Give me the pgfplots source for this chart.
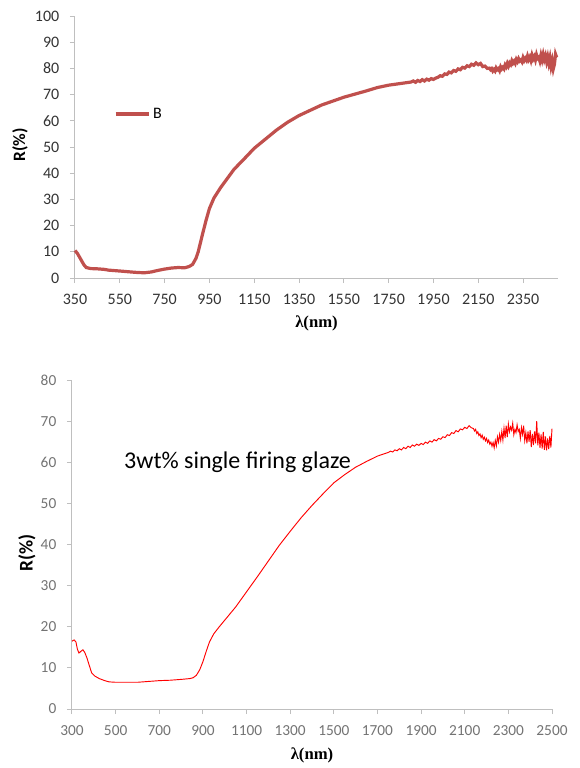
\documentclass[border=0pt]{standalone}
\usepackage{fontspec}
\setmainfont{Carlito}
\newfontfamily\serifx{Liberation Serif}
\usepackage{pgfplots}
\pgfplotsset{compat=1.18}

\definecolor{exred}{RGB}{192,80,77}
\definecolor{axgray}{RGB}{191,191,191}

\pgfplotstableread{
x y
350 10.5
360 9.5
370 8
380 6.5
390 5
400 4
420 3.6
450 3.5
480 3.3
500 3.0
530 2.8
560 2.6
600 2.3
630 2.1
660 2.0
690 2.3
720 2.9
750 3.4
780 3.8
810 4.0
840 3.9
860 4.4
875 5.2
890 7.5
900 10
910 13.5
920 17
935 22
950 26.5
970 30.5
1000 34.5
1030 38
1060 41.5
1100 45
1150 49.5
1200 53
1250 56.5
1300 59.5
1350 62
1400 64
1450 66
1500 67.5
1550 69
1600 70.2
1650 71.4
1700 72.7
1750 73.6
1800 74.2
1850 74.8
1860 75.2
1870 74.7
1880 75.4
1890 75.0
1900 75.7
1910 75.2
1920 75.9
1930 75.5
1940 76.1
1950 75.8
1960 76.3
1970 76.6
1980 77.2
1990 77.0
2000 77.9
2010 77.7
2020 78.6
2030 78.3
2040 79.2
2050 78.9
2060 79.8
2070 79.5
2080 80.4
2090 80.1
2100 81.0
2110 80.7
2120 81.6
2130 81.2
2140 82.1
2150 81.4
2160 81.9
2170 80.7
2180 80.9
2190 80.0
2200 80.1
2205 79.5
2210 79.9
2215 79.0
2220 79.6
2225 79.0
2230 80.2
2235 79.5
2240 79.9
2245 79.1
2250 80.6
2255 79.8
2260 80.4
2265 79.8
2270 81.3
2275 80.6
2280 81.9
2285 80.9
2290 82.1
2295 81.5
2300 82.9
2305 82.0
2310 82.7
2315 81.9
2320 83.4
2325 82.6
2330 83.7
2335 82.8
2340 83.2
2345 82.5
2350 84.1
2355 83.0
2360 83.8
2365 83.1
2370 84.7
2375 83.4
2380 84.3
2385 83.0
2390 85.0
2395 83.6
2400 84.5
2405 83.2
2410 85.2
2415 83.8
2420 84.2
2425 82.8
2430 85.0
2435 83.3
2440 85.3
2445 83.4
2450 84.8
2455 82.6
2460 84.4
2465 82.0
2470 84.0
2475 80.8
2480 82.8
2485 79.8
2490 81.5
2495 85.4
2500 84.2
}\topdata

\pgfplotstableread{
x y
300 16.5
310 16.8
318 16.3
325 14.5
332 13.6
340 14.0
350 14.4
358 13.8
368 12.5
378 10.8
390 8.8
405 8.0
425 7.4
450 6.9
470 6.6
500 6.5
550 6.5
600 6.5
650 6.7
700 6.9
750 7.0
800 7.2
840 7.4
855 7.6
870 8.2
885 9.5
900 11.5
915 14
930 16.3
950 18.3
975 20.0
1000 21.6
1050 24.8
1100 28.5
1150 32.2
1200 36.0
1250 39.8
1300 43.2
1350 46.5
1400 49.5
1450 52.3
1500 55.0
1550 57.0
1600 58.8
1650 60.2
1700 61.5
1750 62.4
1760 62.7
1770 62.5
1780 63.0
1790 62.8
1800 63.3
1810 63.0
1820 63.6
1830 63.3
1840 63.9
1850 63.6
1860 64.2
1870 63.9
1880 64.4
1890 64.1
1900 64.6
1910 64.3
1920 64.9
1930 64.6
1940 65.2
1950 64.9
1960 65.5
1970 65.2
1980 65.8
1990 65.6
2000 66.2
2010 66.0
2020 66.7
2030 66.5
2040 67.2
2050 67.0
2060 67.7
2070 67.4
2080 68.1
2090 67.9
2100 68.5
2110 68.2
2120 68.9
2130 68.4
2140 68.2
2145 67.6
2150 68.0
2155 67.0
2160 67.4
2165 66.5
2170 66.9
2175 66.0
2180 66.6
2185 65.6
2190 66.1
2195 65.2
2200 65.8
2205 64.8
2210 65.4
2215 64.4
2220 64.9
2225 63.9
2230 64.8
2235 63.5
2240 65.3
2245 64.0
2250 66.2
2255 64.9
2260 66.8
2265 65.3
2270 67.5
2275 65.4
2280 68.3
2285 65.9
2290 68.9
2295 66.1
2300 69.3
2305 67.4
2310 68.6
2315 67.8
2320 69.5
2325 66.7
2330 68.0
2335 67.2
2340 69.1
2345 67.5
2350 68.0
2355 65.8
2360 68.4
2365 66.8
2370 68.9
2375 65.3
2380 67.2
2385 64.6
2390 67.5
2395 65.0
2400 67.8
2405 63.7
2410 66.9
2415 64.2
2420 67.5
2425 64.6
2430 70.0
2435 64.1
2440 67.2
2445 63.5
2450 66.8
2455 63.3
2460 67.4
2465 63.0
2470 66.3
2475 62.9
2480 65.8
2485 63.2
2490 66.4
2495 63.6
2500 68.2
}\botdata

\pgfplotsset{
  excel/.style={
    scale only axis,
    axis x line*=bottom,
    axis y line*=left,
    axis line style={axgray, line width=0.75pt, -},
    tick style={axgray, line width=0.75pt},
    tick align=outside,
    major tick length=3.75pt,
    /pgf/number format/assume math mode=true,
    /pgf/number format/set thousands separator={},
    yticklabel shift=4.5pt,
    xticklabel shift=5pt,
    clip=false,
  }
}

\begin{document}
\begin{tikzpicture}
\path (0,0) rectangle (435pt,-576pt);

\begin{axis}[excel,
  at={(56.25pt,-208.5pt)}, anchor=south west,
  width=362.25pt, height=196.5pt,
  xmin=350, xmax=2506, ymin=0, ymax=100,
  xtick={350,550,...,2350},
  ytick={0,10,...,100},
  ticklabel style={font=\fontsize{12}{14}\selectfont, text=black!80},
  xlabel={\serifx\bfseries λ(nm)},
  ylabel={\bfseries R(\%)},
  xlabel style={at={(axis description cs:0.5,-0.1718)}, anchor=center, font=\fontsize{12.5}{14}\selectfont},
  ylabel style={at={(axis description cs:-0.1139,0.508)}, anchor=center, font=\fontsize{13}{15}\selectfont},
  legend style={draw=none, fill=none, at={(axis description cs:0.08,0.626)}, anchor=west,
    font=\fontsize{12}{14}\selectfont, inner sep=0pt},
  legend image code/.code={\draw[#1] (0pt,0pt) -- (25pt,0pt);},
]
\addplot[exred, line width=2.4pt] table {\topdata};
\addlegendentry{B}
\end{axis}

\begin{axis}[excel,
  at={(54pt,-531.75pt)}, anchor=south west,
  width=360pt, height=246.75pt,
  xmin=300, xmax=2500, ymin=0, ymax=80,
  xtick={300,500,...,2500},
  ytick={0,10,...,80},
  ticklabel style={font=\fontsize{11.5}{13}\selectfont, text=black!55},
  xlabel={\serifx\bfseries λ(nm)},
  ylabel={\bfseries R(\%)},
  xlabel style={at={(axis description cs:0.5,-0.1398)}, anchor=center, font=\fontsize{12.5}{14}\selectfont},
  ylabel style={at={(axis description cs:-0.09375,0.474)}, anchor=center, font=\fontsize{14.5}{16}\selectfont},
]
\addplot[red, line width=0.7pt] table {\botdata};
\node[anchor=west, inner sep=0pt, font=\fontsize{18}{21}\selectfont] at (axis cs:538,59.9) {3wt\% single firing glaze};
\end{axis}
\end{tikzpicture}
\end{document}
